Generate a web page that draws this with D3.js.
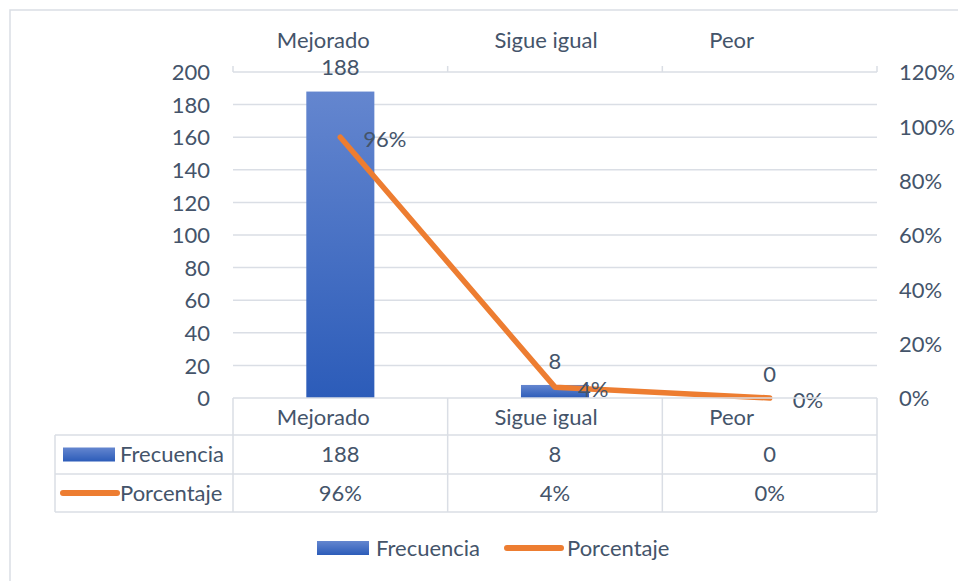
<!DOCTYPE html>
<html>
<head>
<meta charset="utf-8">
<script src="https://cdn.jsdelivr.net/npm/d3@7"></script>
<style>
  body { margin: 0; background: #fff; }
  svg text { font-family: Lato, "Open Sans", sans-serif; font-size: 22px; fill: #44546a; }
</style>
</head>
<body>
<div id="chart"></div>
<script>
// data
var categories = ["Mejorado", "Sigue igual", "Peor"];
var frecuencia = [188, 8, 0];
var porcentaje = [0.96, 0.04, 0];
var leftTicks = [0, 20, 40, 60, 80, 100, 120, 140, 160, 180, 200];
var rightTicks = [0, 0.2, 0.4, 0.6, 0.8, 1.0, 1.2];
var seriesNames = ["Frecuencia", "Porcentaje"];

var width = 958, height = 581;
var plot = { left: 233, right: 877, top: 72, bottom: 398 };
var gridColor = "#dadee5";
var orange = "#ed7d31";
// category text sits left of the column centre in the original
var catShift = [-17, -9, -38];

var svg = d3.select("#chart").append("svg")
  .attr("width", width)
  .attr("height", height);

// gradient for bars
var defs = svg.append("defs");
var grad = defs.append("linearGradient")
  .attr("id", "barGrad")
  .attr("x1", 0).attr("y1", 0).attr("x2", 0).attr("y2", 1);
grad.append("stop").attr("offset", "0%").attr("stop-color", "#6486cf");
grad.append("stop").attr("offset", "100%").attr("stop-color", "#2c5cb9");

// chart frame (runs off the right and bottom edge)
svg.append("rect")
  .attr("x", 10).attr("y", 10)
  .attr("width", 970).attr("height", 600)
  .attr("fill", "none")
  .attr("stroke", gridColor)
  .attr("stroke-width", 1.5);

// SCALES
var x = d3.scaleBand()
  .domain(categories)
  .range([plot.left, plot.right]);

var y = d3.scaleLinear()
  .domain([0, 200])
  .range([plot.bottom, plot.top]);

var y2 = d3.scaleLinear()
  .domain([0, 1.2])
  .range([plot.bottom, plot.top]);

var barW = x.bandwidth() * 0.317;
var fmtPct = d3.format(".0%");
function cx(c) { return x(c) + x.bandwidth() / 2; }

// gridlines (the top one is the secondary category axis)
svg.append("g")
  .selectAll("line")
  .data(leftTicks.filter(function(d) { return d > 0; }))
  .enter().append("line")
  .attr("x1", plot.left).attr("x2", plot.right)
  .attr("y1", function(d) { return y(d); })
  .attr("y2", function(d) { return y(d); })
  .attr("stroke", gridColor)
  .attr("stroke-width", 1.5);

// top category axis ticks + labels
var bounds = categories.map(function(c) { return x(c); }).concat([plot.right]);
svg.append("g")
  .selectAll("line")
  .data(bounds)
  .enter().append("line")
  .attr("x1", function(d) { return d; }).attr("x2", function(d) { return d; })
  .attr("y1", plot.top - 6).attr("y2", plot.top)
  .attr("stroke", gridColor)
  .attr("stroke-width", 1.5);

svg.append("g")
  .selectAll("text")
  .data(categories)
  .enter().append("text")
  .attr("x", function(d, i) { return cx(d) + catShift[i]; })
  .attr("y", 48)
  .attr("text-anchor", "middle")
  .text(function(d) { return d; });

// left axis
var gy = svg.append("g")
  .attr("transform", "translate(" + plot.left + ",0)")
  .call(d3.axisLeft(y).tickValues(leftTicks).tickSize(0).tickPadding(23));
gy.select(".domain").remove();
gy.selectAll("text").attr("dy", "0.35em");

// right axis
var gy2 = svg.append("g")
  .attr("transform", "translate(" + plot.right + ",0)")
  .call(d3.axisRight(y2).tickValues(rightTicks).tickSize(0).tickPadding(22).tickFormat(fmtPct));
gy2.select(".domain").remove();
gy2.selectAll("text").attr("dy", "0.35em");
svg.selectAll(".tick text").attr("fill", null);
gy.attr("font-family", null).attr("font-size", null);
gy2.attr("font-family", null).attr("font-size", null);

// bars
svg.append("g")
  .selectAll("rect")
  .data(frecuencia)
  .enter().append("rect")
  .attr("x", function(d, i) { return x(categories[i]) + (x.bandwidth() - barW) / 2; })
  .attr("y", function(d) { return y(d); })
  .attr("width", barW)
  .attr("height", function(d) { return y(0) - y(d); })
  .attr("fill", "url(#barGrad)");

// bar labels
svg.append("g")
  .selectAll("text")
  .data(frecuencia)
  .enter().append("text")
  .attr("x", function(d, i) { return cx(categories[i]); })
  .attr("y", function(d) { return y(d) - 24; })
  .attr("dy", "0.35em")
  .attr("text-anchor", "middle")
  .text(function(d) { return d; });

// line
var line = d3.line()
  .x(function(d, i) { return cx(categories[i]); })
  .y(function(d) { return y2(d); });

svg.append("path")
  .datum(porcentaje)
  .attr("d", line)
  .attr("fill", "none")
  .attr("stroke", orange)
  .attr("stroke-width", 5.5)
  .attr("stroke-linecap", "round")
  .attr("stroke-linejoin", "round");

// line labels
svg.append("g")
  .selectAll("text")
  .data(porcentaje)
  .enter().append("text")
  .attr("x", function(d, i) { return cx(categories[i]) + 23; })
  .attr("y", function(d) { return y2(d) + 2; })
  .attr("dy", "0.35em")
  .text(function(d) { return fmtPct(d); });

// DATA TABLE
var rowY = [plot.bottom, 435, 474, 512];
var tableLeft = 55;
var table = svg.append("g").attr("stroke", gridColor).attr("stroke-width", 1.5).attr("fill", "none");

table.append("line")
  .attr("x1", plot.left).attr("x2", plot.right)
  .attr("y1", rowY[0]).attr("y2", rowY[0]);
rowY.slice(1).forEach(function(ry) {
  table.append("line")
    .attr("x1", tableLeft).attr("x2", plot.right)
    .attr("y1", ry).attr("y2", ry);
});
table.append("line")
  .attr("x1", tableLeft).attr("x2", tableLeft)
  .attr("y1", rowY[1]).attr("y2", rowY[3]);
bounds.forEach(function(bx) {
  table.append("line")
    .attr("x1", bx).attr("x2", bx)
    .attr("y1", rowY[0]).attr("y2", rowY[3]);
});

// header row
svg.append("g")
  .selectAll("text")
  .data(categories)
  .enter().append("text")
  .attr("x", function(d, i) { return cx(d) + catShift[i]; })
  .attr("y", (rowY[0] + rowY[1]) / 2 + 1)
  .attr("dy", "0.35em")
  .attr("text-anchor", "middle")
  .text(function(d) { return d; });

// value rows
var rows = [frecuencia.map(String), porcentaje.map(fmtPct)];
rows.forEach(function(vals, r) {
  var cy = (rowY[r + 1] + rowY[r + 2]) / 2;
  svg.append("g")
    .selectAll("text")
    .data(vals)
    .enter().append("text")
    .attr("x", function(d, i) { return cx(categories[i]); })
    .attr("y", cy)
    .attr("dy", "0.35em")
    .attr("text-anchor", "middle")
    .text(function(d) { return d; });
});

// legend keys (table + bottom legend)
function drawKey(g, kx, cy, i) {
  if (i === 0) {
    g.append("rect")
      .attr("x", kx).attr("y", cy - 7)
      .attr("width", 52).attr("height", 14)
      .attr("fill", "url(#barGrad)");
  } else {
    g.append("line")
      .attr("x1", kx).attr("x2", kx + 54)
      .attr("y1", cy).attr("y2", cy)
      .attr("stroke", orange)
      .attr("stroke-width", 6)
      .attr("stroke-linecap", "round");
  }
}

seriesNames.forEach(function(name, i) {
  var cy = (rowY[i + 1] + rowY[i + 2]) / 2;
  var g = svg.append("g");
  drawKey(g, 63, cy, i);
  g.append("text")
    .attr("x", 120).attr("y", cy)
    .attr("dy", "0.35em")
    .text(name);
});

// bottom legend
var legendX = [317, 507];
seriesNames.forEach(function(name, i) {
  var g = svg.append("g");
  drawKey(g, legendX[i], 548, i);
  g.append("text")
    .attr("x", legendX[i] + (i === 0 ? 59 : 60)).attr("y", 548)
    .attr("dy", "0.35em")
    .text(name);
});
</script>
</body>
</html>
